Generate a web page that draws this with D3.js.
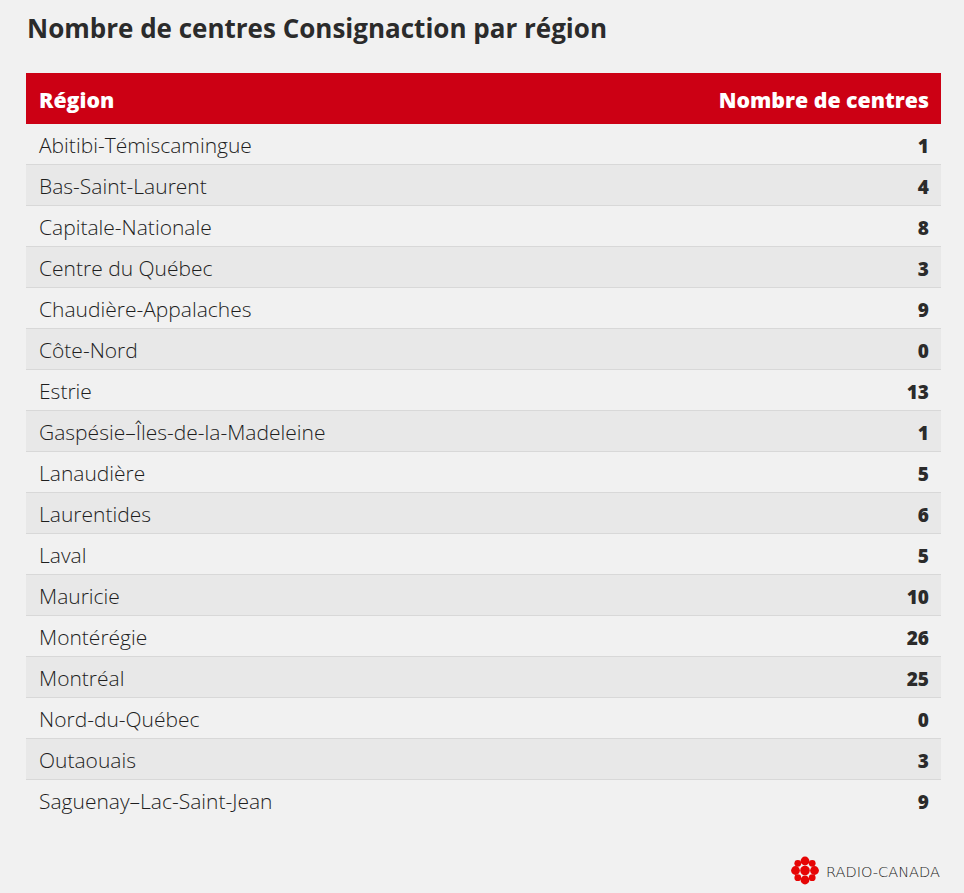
<!DOCTYPE html>
<html><head><meta charset="utf-8">
<script src="https://cdn.jsdelivr.net/npm/d3@7/dist/d3.min.js"></script>
<style>
html,body{margin:0;padding:0;background:#f1f1f1;}
svg{display:block;}
</style></head>
<body><svg id="c" width="964" height="893"></svg>
<script>
const title = "Nombre de centres Consignaction par région";
const columns = ["Région", "Nombre de centres"];
const regions = ["Abitibi-Témiscamingue","Bas-Saint-Laurent","Capitale-Nationale","Centre du Québec","Chaudière-Appalaches","Côte-Nord","Estrie","Gaspésie–Îles-de-la-Madeleine","Lanaudière","Laurentides","Laval","Mauricie","Montérégie","Montréal","Nord-du-Québec","Outaouais","Saguenay–Lac-Saint-Jean"];
const centres = [1,4,8,3,9,0,13,1,5,6,5,10,26,25,0,3,9];

const svg = d3.select("#c");
const L = 26, R = 941;
const font = "'Open Sans', sans-serif";

svg.append("text").attr("x", 27).attr("y", 38).text(title)
  .attr("font-family", font).attr("font-weight", 700).attr("font-size", 26).attr("fill", "#2b2b2b");

// header
svg.append("rect").attr("x", L).attr("y", 73).attr("width", R - L).attr("height", 51).attr("fill", "#cc0014");
svg.append("text").attr("x", 39).attr("y", 108).text(columns[0])
  .attr("font-family", font).attr("font-weight", 800).attr("font-size", 21.3).attr("fill", "#fff");
svg.append("text").attr("x", 929).attr("y", 108).attr("text-anchor", "end").text(columns[1])
  .attr("font-family", font).attr("font-weight", 800).attr("font-size", 21.3).attr("fill", "#fff");

const y = d3.scaleBand().domain(regions).range([124, 124 + 41 * regions.length]);
const rows = svg.selectAll("g.row").data(regions.map((r, i) => ({r, v: centres[i], i})))
  .join("g").attr("class", "row").attr("transform", d => `translate(0,${y(d.r)})`);
rows.append("rect").attr("x", L).attr("y", 0).attr("width", R - L).attr("height", y.bandwidth())
  .attr("fill", d => d.i % 2 ? "#e8e8e8" : "#f1f1f1");
rows.filter(d => d.i < regions.length - 1).append("rect").attr("x", L).attr("y", y.bandwidth() - 1)
  .attr("width", R - L).attr("height", 1).attr("fill", "#d8d8d8");
rows.append("text").attr("x", 39).attr("y", 28.7).text(d => d.r)
  .attr("font-family", font).attr("font-weight", 300).attr("font-size", 21).attr("fill", "#1e1e1e");
rows.append("text").attr("x", 929).attr("y", 28.7).attr("text-anchor", "end").text(d => d.v)
  .attr("font-family", font).attr("font-weight", 800).attr("font-size", 19).attr("fill", "#2b2b2b");

// logo
const g = svg.append("g").attr("transform", "translate(805,870.5)");
const red = "#e60505";
g.append("circle").attr("r", 4.8).attr("fill", red);
[[0,-9.5],[0,9.5],[-9.5,0],[9.5,0]].forEach(([dx,dy]) => {
  g.append("circle").attr("cx", dx).attr("cy", dy).attr("r", 4.4).attr("fill", red);
});
[[-7.2,-7.2],[7.2,-7.2],[-7.2,7.2],[7.2,7.2]].forEach(([dx,dy]) => {
  g.append("circle").attr("cx", dx).attr("cy", dy).attr("r", 3.4).attr("fill", red);
});
svg.append("text").attr("x", 940).attr("y", 877).attr("text-anchor", "end").text("RADIO-CANADA")
  .attr("font-family", "'DejaVu Sans', sans-serif").attr("font-weight", 300).attr("font-size", 13.5).attr("fill", "#222")
  .attr("textLength", 114).attr("lengthAdjust", "spacingAndGlyphs");
</script></body></html>
